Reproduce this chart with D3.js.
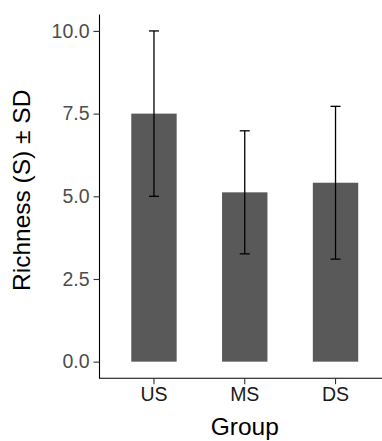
<!DOCTYPE html>
<html>
<head>
<meta charset="utf-8">
<script src="https://cdn.jsdelivr.net/npm/d3@7"></script>
<style>
  body { margin: 0; background: #fff; }
  svg { display: block; font-family: "Liberation Sans", Arial, sans-serif; }
</style>
</head>
<body>
<svg id="chart" width="382" height="441"></svg>
<script>
// values
const groups = ["US", "MS", "DS"];
const means = [7.5, 5.12, 5.41];
const sds = [2.5, 1.86, 2.31];
const yTicks = [0, 2.5, 5, 7.5, 10];

const width = 382, height = 441;
const panelLeft = 99.5, panelRight = 390, panelTop = 14.4, panelBottom = 378.2;

const svg = d3.select("#chart");

const x = d3.scaleBand()
    .domain(groups)
    .range([panelLeft, panelRight])
    .paddingInner(0.5)
    .paddingOuter(0.35);

const y = d3.scaleLinear()
    .domain([-0.5, 10.5])
    .range([panelBottom, panelTop]);

const data = groups.map((g, i) => ({ g: g, mean: means[i], sd: sds[i] }));

// bars
svg.append("g")
    .selectAll("rect")
    .data(data)
    .enter().append("rect")
    .attr("x", d => x(d.g))
    .attr("y", d => y(d.mean))
    .attr("width", x.bandwidth())
    .attr("height", d => y(0) - y(d.mean))
    .attr("fill", "#595959");

// error bars
const cap = 5;
const eb = svg.append("g")
    .attr("stroke", "black")
    .attr("stroke-width", 1.3)
    .selectAll("g")
    .data(data)
    .enter().append("g");

eb.append("line")
    .attr("x1", d => x(d.g) + x.bandwidth() / 2)
    .attr("x2", d => x(d.g) + x.bandwidth() / 2)
    .attr("y1", d => y(d.mean - d.sd))
    .attr("y2", d => y(d.mean + d.sd));
eb.append("line")
    .attr("x1", d => x(d.g) + x.bandwidth() / 2 - cap)
    .attr("x2", d => x(d.g) + x.bandwidth() / 2 + cap)
    .attr("y1", d => y(d.mean + d.sd))
    .attr("y2", d => y(d.mean + d.sd));
eb.append("line")
    .attr("x1", d => x(d.g) + x.bandwidth() / 2 - cap)
    .attr("x2", d => x(d.g) + x.bandwidth() / 2 + cap)
    .attr("y1", d => y(d.mean - d.sd))
    .attr("y2", d => y(d.mean - d.sd));

// axes
const yAxis = svg.append("g")
    .attr("transform", `translate(${panelLeft},0)`)
    .call(d3.axisLeft(y).tickValues(yTicks).tickFormat(d3.format(".1f")).tickSize(6).tickPadding(4));
yAxis.select(".domain").attr("d", `M0,${panelTop}V${panelBottom}`).attr("stroke", "black").attr("stroke-width", 1.1);

const xAxis = svg.append("g")
    .attr("transform", `translate(0,${panelBottom})`)
    .call(d3.axisBottom(x).tickSize(6).tickPadding(3));
xAxis.select(".domain").attr("d", `M${panelLeft - 0.5},0H${panelRight}`).attr("stroke", "black").attr("stroke-width", 1.1);

svg.selectAll(".tick line").attr("stroke", "#333333").attr("stroke-width", 1.1);
yAxis.selectAll(".tick text")
    .attr("font-size", 19.5)
    .attr("fill", "#4D4D4D")
    .attr("font-family", "Liberation Sans, Arial, sans-serif");
xAxis.selectAll(".tick text")
    .attr("font-size", 19.5)
    .attr("fill", "#1A1A1A")
    .attr("font-family", "Liberation Sans, Arial, sans-serif");

// titles
svg.append("text")
    .attr("x", (panelLeft + panelRight) / 2)
    .attr("y", 435)
    .attr("text-anchor", "middle")
    .attr("font-size", 24.5)
    .attr("fill", "black")
    .text("Group");

svg.append("text")
    .attr("transform", `translate(29.5,${(panelTop + panelBottom) / 2 - 6}) rotate(-90)`)
    .attr("text-anchor", "middle")
    .attr("font-size", 24.5)
    .attr("fill", "black")
    .text("Richness (S) ± SD");
</script>
</body>
</html>
